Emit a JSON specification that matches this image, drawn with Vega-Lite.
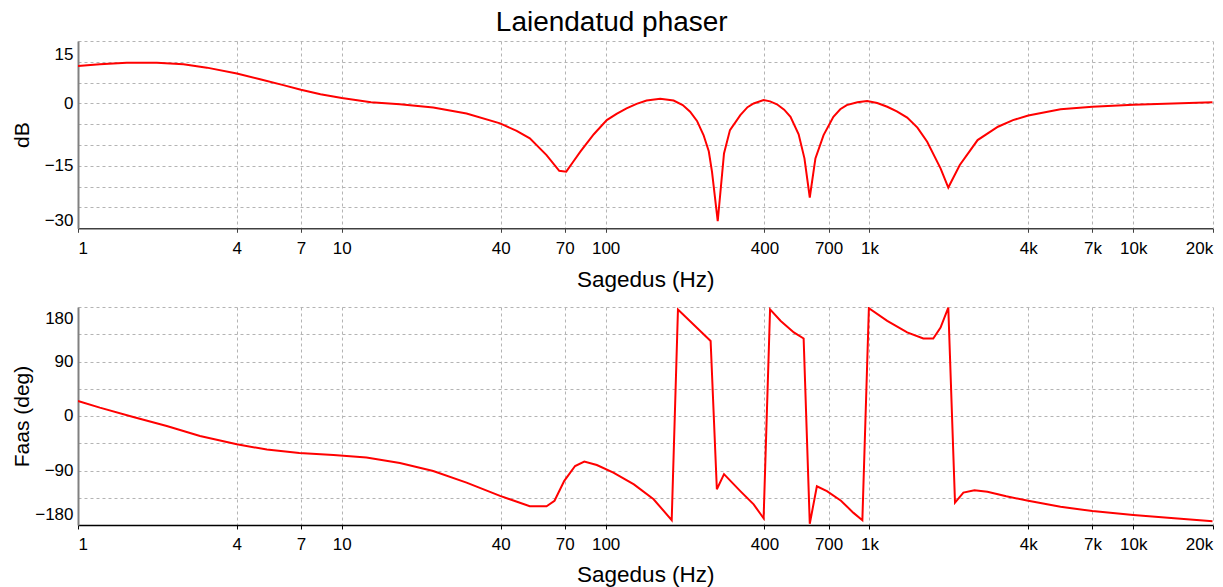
{
  "$schema": "https://vega.github.io/schema/vega-lite/v6.json",
  "autosize": {"type": "pad"},
  "padding": {"left": 12, "top": 9, "right": 10, "bottom": 2},
  "background": "white",
  "title": {"text": "Laiendatud phaser", "font": "Liberation Sans", "fontSize": 28, "fontWeight": "normal", "color": "#000000", "anchor": "middle", "dx": -1, "offset": 4},
  "config": {
    "view": {"stroke": null},
    "axis": {
      "labelFont": "Liberation Sans", "labelFontSize": 17, "labelColor": "#000000",
      "titleFont": "Liberation Sans", "titleFontWeight": "normal", "titleColor": "#000000",
      "gridColor": "#b4b4b4", "gridDash": [3, 3], "gridWidth": 1, "gridOpacity": 1
    }
  },
  "datasets": {
    "mag": [
      {"f": 1, "db": 9.0}, {"f": 1.21, "db": 9.4}, {"f": 1.53, "db": 9.8}, {"f": 1.99, "db": 9.8},
      {"f": 2.51, "db": 9.4}, {"f": 3.08, "db": 8.6}, {"f": 4.0, "db": 7.2}, {"f": 4.9, "db": 5.8},
      {"f": 6.0, "db": 4.4}, {"f": 7.0, "db": 3.3}, {"f": 8.3, "db": 2.2}, {"f": 10, "db": 1.3},
      {"f": 12.9, "db": 0.3}, {"f": 16.6, "db": -0.2}, {"f": 22.2, "db": -1.0}, {"f": 29.7, "db": -2.4},
      {"f": 39.8, "db": -4.8}, {"f": 46, "db": -6.6}, {"f": 51.6, "db": -8.4}, {"f": 59.7, "db": -12.4}, {"f": 66.7, "db": -16.2},
      {"f": 70.9, "db": -16.4}, {"f": 75, "db": -14.2}, {"f": 80.2, "db": -11.6}, {"f": 90.2, "db": -7.4}, {"f": 101, "db": -4.0},
      {"f": 110, "db": -2.5}, {"f": 120, "db": -1.2}, {"f": 131, "db": -0.1}, {"f": 143, "db": 0.7}, {"f": 161, "db": 1.1}, {"f": 181, "db": 0.7},
      {"f": 196, "db": -0.4}, {"f": 209, "db": -2.0}, {"f": 222, "db": -4.2}, {"f": 235, "db": -7.6}, {"f": 246, "db": -11.5}, {"f": 253, "db": -16.4}, {"f": 266, "db": -28.3},
      {"f": 281, "db": -12.0}, {"f": 296, "db": -6.4}, {"f": 324, "db": -2.8}, {"f": 345, "db": -0.9}, {"f": 364, "db": 0.0},
      {"f": 397, "db": 0.8}, {"f": 420, "db": 0.5}, {"f": 446, "db": -0.2}, {"f": 475, "db": -1.5}, {"f": 502, "db": -3.2}, {"f": 539, "db": -7.4},
      {"f": 567, "db": -13.2}, {"f": 594, "db": -22.6}, {"f": 624, "db": -13.2}, {"f": 670, "db": -7.6},
      {"f": 730, "db": -3.2}, {"f": 775, "db": -1.4}, {"f": 820, "db": -0.4}, {"f": 900, "db": 0.3}, {"f": 980, "db": 0.6}, {"f": 1070, "db": 0.1}, {"f": 1168, "db": -0.8},
      {"f": 1270, "db": -1.9}, {"f": 1390, "db": -3.4}, {"f": 1520, "db": -5.8}, {"f": 1655, "db": -9.2}, {"f": 1860, "db": -15.6}, {"f": 1990, "db": -20.2},
      {"f": 2200, "db": -14.8}, {"f": 2570, "db": -8.8}, {"f": 3070, "db": -5.6}, {"f": 3500, "db": -4.0}, {"f": 4000, "db": -2.9},
      {"f": 5300, "db": -1.4}, {"f": 7000, "db": -0.8}, {"f": 10000, "db": -0.3}, {"f": 20000, "db": 0.3}
    ],
    "phase": [
      {"f": 1, "deg": 24.8}, {"f": 1.21, "deg": 13.8}, {"f": 1.62, "deg": -1.6}, {"f": 2.17, "deg": -16.5},
      {"f": 2.9, "deg": -33}, {"f": 4.0, "deg": -46.7}, {"f": 5.2, "deg": -55.5}, {"f": 6.9, "deg": -61},
      {"f": 9.3, "deg": -64.4}, {"f": 12.4, "deg": -68.7}, {"f": 16.6, "deg": -77.6}, {"f": 22.2, "deg": -90.8},
      {"f": 29.7, "deg": -110}, {"f": 39.8, "deg": -132}, {"f": 51.6, "deg": -149}, {"f": 59.7, "deg": -149},
      {"f": 64, "deg": -140}, {"f": 69.7, "deg": -107}, {"f": 76.6, "deg": -82.6}, {"f": 83, "deg": -75.3},
      {"f": 92.6, "deg": -80.9}, {"f": 107, "deg": -93.5}, {"f": 128, "deg": -113}, {"f": 152, "deg": -137.5},
      {"f": 178, "deg": -172}, {"f": 188, "deg": 176}, {"f": 250, "deg": 124}, {"f": 264, "deg": -121},
      {"f": 281, "deg": -96}, {"f": 324, "deg": -124}, {"f": 364, "deg": -146}, {"f": 397, "deg": -169},
      {"f": 420, "deg": 176}, {"f": 461, "deg": 157}, {"f": 517, "deg": 138}, {"f": 563, "deg": 128},
      {"f": 594, "deg": -178}, {"f": 632, "deg": -116}, {"f": 690, "deg": -124}, {"f": 780, "deg": -140},
      {"f": 870, "deg": -160}, {"f": 940, "deg": -172}, {"f": 995, "deg": 178}, {"f": 1168, "deg": 157},
      {"f": 1390, "deg": 138}, {"f": 1600, "deg": 128}, {"f": 1745, "deg": 128}, {"f": 1860, "deg": 146},
      {"f": 1990, "deg": 179}, {"f": 2110, "deg": -143}, {"f": 2270, "deg": -126.5}, {"f": 2500, "deg": -122.7},
      {"f": 2800, "deg": -125}, {"f": 3300, "deg": -132.6}, {"f": 4000, "deg": -140}, {"f": 5300, "deg": -150},
      {"f": 7000, "deg": -157}, {"f": 10000, "deg": -163.5}, {"f": 14300, "deg": -169}, {"f": 20000, "deg": -174}
    ]
  },
  "bounds": "flush",
  "spacing": 78,
  "vconcat": [
    {
      "width": 1134.7,
      "height": 187.3,
      "data": {"name": "mag"},
      "mark": {"type": "line", "color": "#ff0000", "strokeWidth": 2, "clip": true},
      "encoding": {
        "x": {
          "field": "f", "type": "quantitative",
          "scale": {"type": "log", "domain": [1, 20000], "nice": false},
          "axis": {
            "title": "Sagedus (Hz)", "titleFontSize": 22.5, "titlePadding": 12,
            "values": [1, 4, 7, 10, 40, 70, 100, 400, 700, 1000, 4000, 7000, 10000, 20000],
            "labelExpr": "datum.value >= 1000 ? format(datum.value / 1000, 'd') + 'k' : format(datum.value, 'd')",
            "labelFlush": true, "labelPadding": 8, "tickSize": 4, "tickColor": "#404040",
            "domainColor": "#404040", "domainWidth": 1.5, "grid": true
          }
        },
        "y": {
          "field": "db", "type": "quantitative",
          "scale": {"domain": [-30, 15], "nice": false, "zero": false},
          "axis": {
            "title": "dB", "titleFontSize": 21, "titleX": -45,
            "values": [-30, -25, -20, -15, -10, -5, 0, 5, 10, 15],
            "labelExpr": "datum.value % 15 == 0 ? format(datum.value, 'd') : ''",
            "labelFlush": false, "labelBaseline": "middle", "labelPadding": 5,
            "labelOffset": {"condition": [{"test": "datum.value == 15", "value": 13}, {"test": "datum.value == -30", "value": -8}], "value": 0},
            "ticks": false, "tickSize": 0,
            "domainColor": "#808080", "domainWidth": 2, "grid": true
          }
        }
      }
    },
    {
      "width": 1134.7,
      "height": 218,
      "data": {"name": "phase"},
      "mark": {"type": "line", "color": "#ff0000", "strokeWidth": 2, "clip": true},
      "encoding": {
        "x": {
          "field": "f", "type": "quantitative",
          "scale": {"type": "log", "domain": [1, 20000], "nice": false},
          "axis": {
            "title": "Sagedus (Hz)", "titleFontSize": 22.5, "titlePadding": 11,
            "values": [1, 4, 7, 10, 40, 70, 100, 400, 700, 1000, 4000, 7000, 10000, 20000],
            "labelExpr": "datum.value >= 1000 ? format(datum.value / 1000, 'd') + 'k' : format(datum.value, 'd')",
            "labelFlush": true, "labelPadding": 8, "tickSize": 4, "tickColor": "#000000",
            "domainColor": "#000000", "domainWidth": 1.5, "grid": true
          }
        },
        "y": {
          "field": "deg", "type": "quantitative",
          "scale": {"domain": [-180, 180], "nice": false, "zero": false},
          "axis": {
            "title": "Faas (deg)", "titleFontSize": 21, "titleX": -45,
            "values": [-180, -135, -90, -45, 0, 45, 90, 135, 180],
            "labelExpr": "datum.value % 90 == 0 ? format(datum.value, 'd') : ''",
            "labelFlush": false, "labelBaseline": "middle", "labelPadding": 5,
            "labelOffset": {"condition": [{"test": "datum.value == 180", "value": 12}, {"test": "datum.value == -180", "value": -10.5}], "value": 0},
            "ticks": false, "tickSize": 0,
            "domainColor": "#808080", "domainWidth": 2, "grid": true
          }
        }
      }
    }
  ]
}
